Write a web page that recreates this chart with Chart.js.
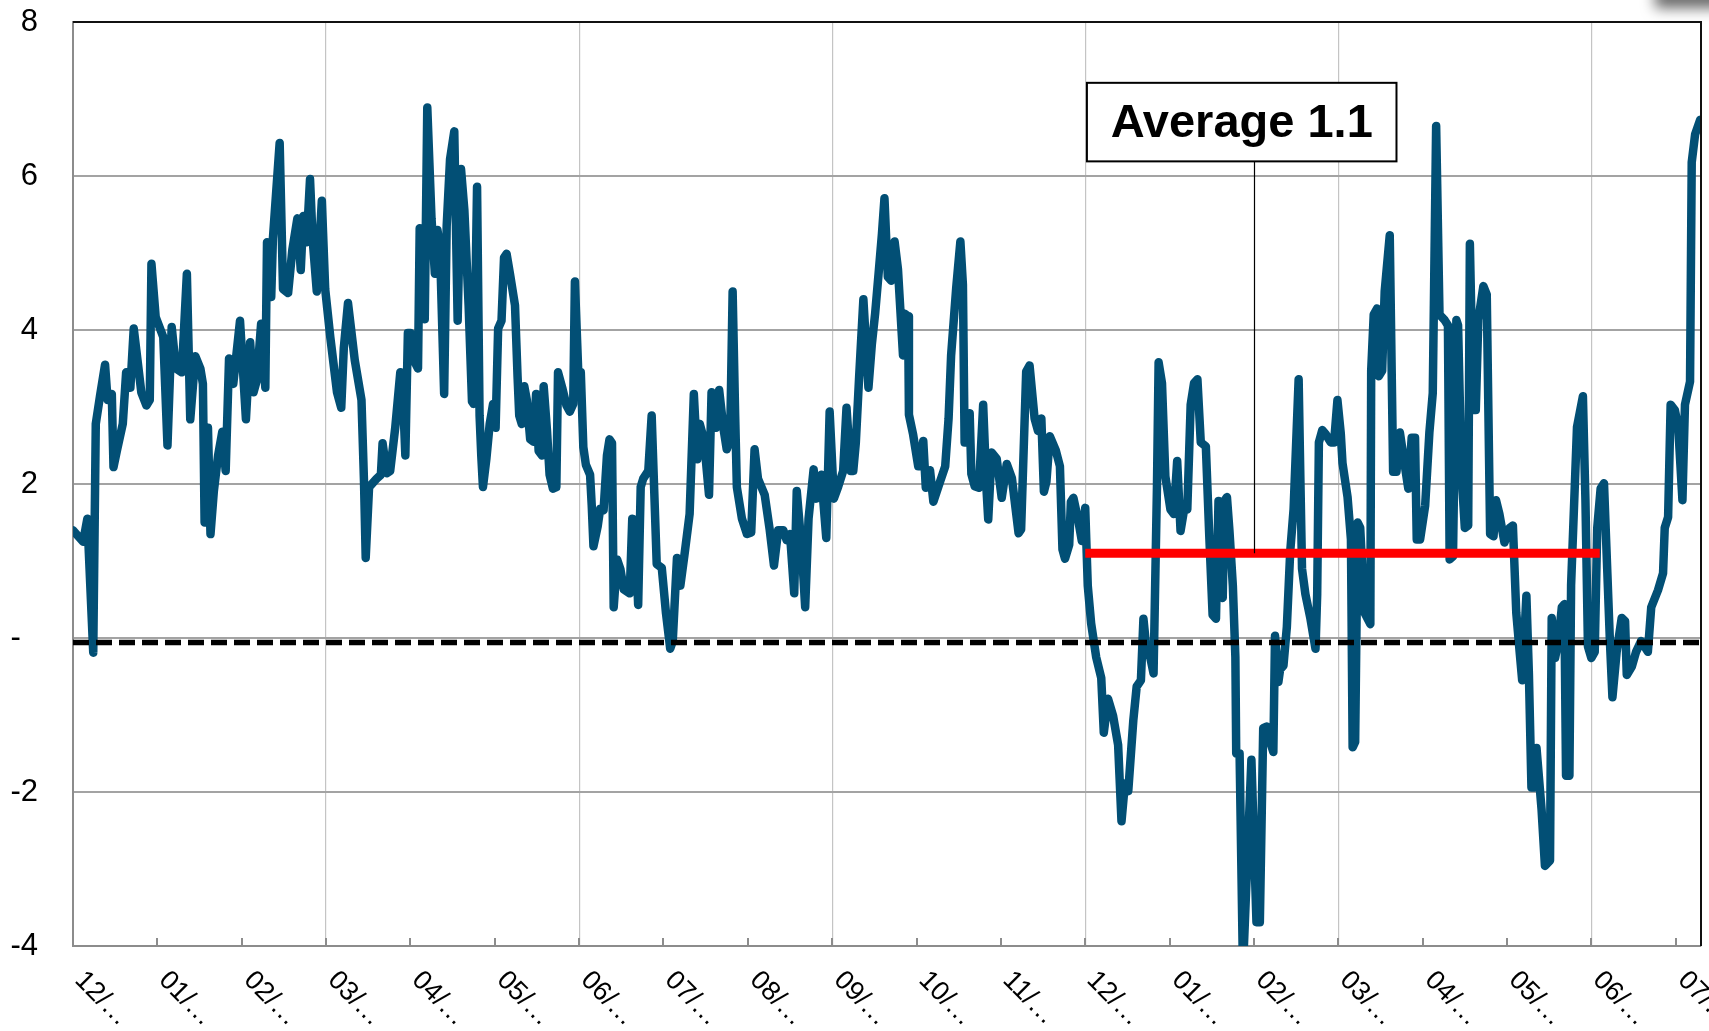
<!DOCTYPE html>
<html>
<head>
<meta charset="utf-8">
<script src="https://cdn.jsdelivr.net/npm/chart.js@4.4.1/dist/chart.umd.min.js"></script>
<style>
  html, body { margin: 0; padding: 0; background: #fff; }
</style>
</head>
<body>
<canvas id="spreadChart" width="1709" height="1031"></canvas>
<script>
// month tick labels, one per month (x = months since the first tick)
const monthLabels = ["12/…", "01/…", "02/…", "03/…", "04/…", "05/…", "06/…", "07/…", "08/…", "09/…",
                     "10/…", "11/…", "12/…", "01/…", "02/…", "03/…", "04/…", "05/…", "06/…", "07/…"];

// series: position in months, value
const xMonths = [
  0.00,0.12,0.17,0.24,0.27,0.32,0.38,0.41,0.46,0.48,0.52,0.59,0.63,0.68,0.72,0.81,0.87,0.91,0.93,0.98,
  1.07,1.12,1.17,1.22,1.29,1.35,1.39,1.45,1.51,1.54,1.56,1.60,1.63,1.67,1.72,1.77,1.81,1.85,1.90,1.98,
  2.05,2.10,2.14,2.18,2.23,2.28,2.30,2.35,2.37,2.45,2.49,2.55,2.60,2.66,2.70,2.73,2.77,2.81,2.84,2.89,2.95,2.99,
  3.05,3.13,3.18,3.21,3.26,3.34,3.42,3.45,3.47,3.51,3.60,3.65,3.67,3.72,3.76,3.82,3.88,3.91,3.94,3.97,
  4.00,4.04,4.09,4.11,4.17,4.20,4.25,4.29,4.32,4.35,4.40,4.43,4.47,4.52,4.56,4.60,4.64,4.69,4.73,4.75,4.79,4.82,4.84,4.86,4.90,4.94,4.98,
  5.01,5.04,5.08,5.11,5.14,5.18,5.24,5.27,5.29,5.32,5.35,5.38,5.42,5.46,5.49,5.52,5.56,5.58,5.62,5.65,5.69,5.73,5.75,5.80,5.85,5.89,5.93,5.95,5.99,
  6.02,6.05,6.08,6.13,6.15,6.17,6.22,6.25,6.29,6.33,6.36,6.39,6.41,6.45,6.49,6.53,6.60,6.63,6.66,6.70,6.73,6.76,6.82,6.86,6.92,6.98,
  7.03,7.08,7.11,7.16,7.20,7.25,7.31,7.36,7.40,7.43,7.48,7.54,7.57,7.62,7.66,7.71,7.75,7.79,7.82,7.85,7.87,7.93,7.99,
  8.04,8.08,8.12,8.20,8.26,8.31,8.36,8.42,8.46,8.50,8.55,8.58,8.64,8.68,8.72,8.78,8.81,8.87,8.93,8.97,
  9.02,9.07,9.13,9.17,9.22,9.25,9.28,9.32,9.37,9.43,9.47,9.51,9.55,9.59,9.62,9.66,9.70,9.74,9.78,9.84,9.86,9.90,9.91,9.96,
  10.02,10.04,10.08,10.11,10.16,10.20,10.26,10.34,10.38,10.41,10.47,10.52,10.55,10.57,10.60,10.63,10.65,10.69,10.74,10.79,10.83,10.85,10.89,10.95,
  11.01,11.07,11.13,11.21,11.24,11.30,11.34,11.40,11.44,11.48,11.51,11.54,11.58,11.65,11.70,11.73,11.76,11.81,11.83,11.86,11.92,11.96,
  12.00,12.03,12.07,12.13,12.19,12.22,12.27,12.33,12.39,12.43,12.47,12.51,12.57,12.61,12.66,12.69,12.73,12.77,12.81,12.85,12.87,12.91,12.95,
  13.01,13.05,13.09,13.13,13.18,13.21,13.25,13.29,13.33,13.37,13.43,13.47,13.51,13.55,13.58,13.61,13.63,13.65,13.68,13.71,13.75,13.78,13.79,13.83,13.87,13.97,
  14.03,14.07,14.11,14.15,14.19,14.23,14.25,14.29,14.31,14.35,14.39,14.43,14.47,14.53,14.55,14.57,14.61,14.67,14.73,14.75,14.77,14.81,14.85,14.91,14.95,14.99,
  15.03,15.05,15.11,15.15,15.17,15.20,15.23,15.26,15.31,15.38,15.39,15.42,15.46,15.48,15.52,15.55,15.61,15.65,15.69,15.73,15.79,15.83,15.87,15.91,15.93,15.97,
  16.03,16.08,16.12,16.16,16.20,16.26,16.30,16.32,16.36,16.40,16.42,16.46,16.50,16.54,16.56,16.60,16.63,16.66,16.72,16.76,16.80,16.84,16.87,16.91,16.97,
  17.03,17.07,17.11,17.15,17.18,17.23,17.26,17.29,17.33,17.35,17.41,17.45,17.51,17.53,17.57,17.61,17.65,17.68,17.70,17.74,17.76,17.79,17.83,17.90,17.93,17.96,
  18.00,18.04,18.07,18.11,18.15,18.19,18.22,18.25,18.30,18.36,18.40,18.42,18.48,18.53,18.59,18.67,18.71,18.79,18.85,18.87,18.91,18.94,18.99,
  19.03,19.08,19.11,19.17,19.19,19.23,19.29
];
const yValues = [
  1.40,1.25,1.55,-0.19,2.78,3.14,3.55,3.09,3.17,2.22,2.43,2.78,3.45,3.25,4.02,3.19,3.02,3.09,4.86,4.17,
  3.91,2.50,4.04,3.50,3.45,4.73,2.84,3.66,3.50,3.30,1.50,2.73,1.35,1.91,2.37,2.68,2.17,3.63,3.30,4.12,
  2.84,3.84,3.19,3.35,4.08,3.25,5.14,4.43,5.19,6.43,4.53,4.48,5.04,5.45,4.78,5.48,5.14,5.96,5.19,4.50,5.68,4.53,
  3.91,3.19,2.99,3.76,4.35,3.61,3.09,2.02,1.04,1.96,2.07,2.12,2.53,2.14,2.17,2.73,3.45,3.19,2.37,3.96,
  3.96,3.61,3.50,5.32,4.14,6.89,5.45,4.73,5.30,5.09,3.17,5.35,6.22,6.58,4.12,6.09,5.55,4.32,3.07,3.04,5.86,2.89,2.37,1.96,2.32,2.78,3.04,
  2.73,4.02,4.12,4.94,4.99,4.73,4.32,3.40,2.89,2.78,3.27,3.09,2.58,2.55,3.17,2.43,2.37,3.27,2.68,2.12,1.94,1.96,3.45,3.25,3.02,2.94,3.04,4.63,3.45,
  3.45,2.48,2.25,2.12,1.71,1.19,1.45,1.68,1.66,2.37,2.58,2.53,0.40,1.02,0.89,0.63,0.58,1.55,1.53,0.43,1.96,2.07,2.17,2.89,0.96,0.91,
  0.32,-0.14,-0.04,1.04,0.68,1.09,1.61,3.17,2.32,2.78,2.58,1.86,3.19,2.73,3.22,2.73,2.45,2.58,4.50,2.89,1.96,1.55,1.35,
  1.37,2.45,2.07,1.86,1.40,0.94,1.40,1.40,1.27,1.35,0.58,1.91,1.14,0.40,1.55,2.19,1.81,2.12,1.30,2.94,
  1.81,1.96,2.17,2.99,2.17,2.17,2.53,3.40,4.40,3.25,3.81,4.22,4.73,5.25,5.71,4.69,4.64,5.15,4.79,3.67,4.21,4.18,2.90,2.64,
  2.23,2.23,2.56,1.95,2.18,1.77,1.97,2.23,2.85,3.67,4.54,5.15,4.59,2.54,2.54,2.92,2.13,1.97,1.95,3.03,1.92,1.54,2.41,2.33,
  1.82,2.26,2.08,1.36,1.41,3.46,3.54,2.85,2.69,2.85,1.90,2.03,2.62,2.44,2.23,1.15,1.03,1.21,1.77,1.82,1.51,1.26,
  1.69,0.68,0.19,-0.25,-0.52,-1.23,-0.79,-1.01,-1.39,-2.38,-1.89,-1.99,-1.07,-0.63,-0.55,0.25,-0.19,-0.25,-0.46,1.94,3.58,3.31,2.10,
  1.67,1.61,2.30,1.39,1.72,1.67,3.03,3.31,3.36,2.54,2.49,1.34,0.30,0.25,1.78,0.57,0.52,1.78,1.83,1.39,0.68,-0.25,-1.50,-1.50,-4.30,-1.58,
  -3.69,-3.69,-1.17,-1.15,-1.34,-1.48,0.03,-0.57,-0.41,-0.36,0.14,1.12,1.67,3.36,2.10,0.90,0.57,0.25,-0.14,0.57,2.54,2.70,2.65,2.54,2.54,3.09,
  2.65,2.27,1.83,1.28,-1.42,-1.35,1.50,1.43,0.33,0.18,3.47,4.20,4.28,3.40,3.47,4.50,5.23,2.16,2.16,2.67,2.23,1.94,2.60,2.60,1.28,1.28,
  1.72,2.67,3.18,6.65,4.20,4.13,4.06,1.02,1.06,4.13,4.06,2.16,1.43,1.46,5.12,2.96,2.96,4.13,4.57,4.46,1.35,1.32,1.79,1.61,1.24,
  1.43,1.46,0.33,-0.18,-0.55,0.55,-0.48,-1.94,-1.94,-1.43,-2.23,-2.96,-2.89,0.26,-0.26,-0.04,0.40,0.44,-1.79,-1.79,0.69,1.57,2.74,3.14,1.79,-0.11,
  -0.26,-0.18,1.43,1.94,2.01,0.84,-0.04,-0.77,-0.18,0.26,0.22,-0.48,-0.37,-0.18,-0.04,-0.18,0.40,0.62,0.84,1.43,1.57,3.03,2.96,
  2.74,1.79,3.03,3.33,6.18,6.54,6.73
];

// average over the last period, and the dashed reference level
const avgValue = 1.1;
const avgFrom = 12;
const avgTo = 18.1;
const avgText = "Average 1.1";
const refLevel = -0.06;

const xMax = 19.3;

const n = Math.min(xMonths.length, yValues.length);
const seriesPoints = [];
for (let i = 0; i < n; i++) seriesPoints.push({ x: xMonths[i], y: yValues[i] });

// box for the label, in data units
const noteBox = { left: 12.02, right: 15.69, top: 7.21, bottom: 6.19, pointerX: 14.0 };

const chartDecor = {
  id: 'chartDecor',
  afterDraw(chart) {
    const { ctx, chartArea: a, scales: { x, y } } = chart;
    ctx.save();

    // smudge in the top right corner
    ctx.save();
    ctx.shadowColor = 'rgba(0,0,0,0.6)';
    ctx.shadowBlur = 14;
    ctx.shadowOffsetY = 30;
    ctx.fillStyle = '#000';
    ctx.fillRect(1655, -42, 140, 20);
    ctx.restore();

    // top and right frame
    ctx.strokeStyle = '#111';
    ctx.lineWidth = 2;
    ctx.beginPath();
    ctx.moveTo(a.left, a.top);
    ctx.lineTo(a.right, a.top);
    ctx.lineTo(a.right, a.bottom);
    ctx.stroke();

    // month ticks inside the plot and rotated labels
    ctx.font = '27px "Liberation Sans", Arial, sans-serif';
    ctx.fillStyle = '#000';
    ctx.textAlign = 'left';
    ctx.textBaseline = 'middle';
    monthLabels.forEach((lab, i) => {
      const px = Math.round(x.getPixelForValue(i));
      if (i > 0) {
        ctx.strokeStyle = '#8c8c8c';
        ctx.lineWidth = 2;
        ctx.beginPath();
        ctx.moveTo(px, a.bottom);
        ctx.lineTo(px, a.bottom - 8);
        ctx.stroke();
      }
      ctx.save();
      ctx.translate(px + 6, a.bottom + 30);
      ctx.rotate(Math.PI / 4);
      ctx.fillText(lab, 0, 0);
      ctx.restore();
    });

    // label box with its pointer down to the average line
    const bl = x.getPixelForValue(noteBox.left);
    const br = x.getPixelForValue(noteBox.right);
    const bt = y.getPixelForValue(noteBox.top);
    const bb = y.getPixelForValue(noteBox.bottom);
    const px = Math.round(x.getPixelForValue(noteBox.pointerX)) + 0.5;
    ctx.strokeStyle = '#000';
    ctx.lineWidth = 1.2;
    ctx.beginPath();
    ctx.moveTo(px, bb);
    ctx.lineTo(px, y.getPixelForValue(avgValue));
    ctx.stroke();
    ctx.fillStyle = '#fff';
    ctx.fillRect(bl, bt, br - bl, bb - bt);
    ctx.lineWidth = 2;
    ctx.strokeRect(bl, bt, br - bl, bb - bt);
    ctx.fillStyle = '#000';
    ctx.font = 'bold 47px "Liberation Sans", Arial, sans-serif';
    ctx.textAlign = 'center';
    ctx.textBaseline = 'middle';
    ctx.fillText(avgText, (bl + br) / 2, (bt + bb) / 2 + 2);

    ctx.restore();
  }
};

Chart.defaults.font.family = '"Liberation Sans", Arial, sans-serif';

new Chart(document.getElementById('spreadChart'), {
  type: 'line',
  data: {
    datasets: [
      {
        label: 'Average',
        data: [{ x: avgFrom, y: avgValue }, { x: avgTo, y: avgValue }],
        borderColor: '#ff0000',
        borderWidth: 9,
        borderCapStyle: 'butt',
        pointRadius: 0
      },
      {
        label: 'Reference',
        data: [{ x: 0, y: refLevel }, { x: xMax, y: refLevel }],
        borderColor: '#000',
        borderWidth: 5.5,
        borderDash: [16, 7],
        borderCapStyle: 'butt',
        pointRadius: 0
      },
      {
        label: 'Series',
        data: seriesPoints,
        borderColor: '#024f75',
        borderWidth: 8.5,
        borderJoinStyle: 'round',
        borderCapStyle: 'round',
        pointRadius: 0,
        tension: 0,
        clip: 0
      }
    ]
  },
  options: {
    responsive: false,
    animation: false,
    devicePixelRatio: 1,
    layout: { padding: { top: 22, right: 8, left: 0, bottom: 0 } },
    plugins: {
      legend: { display: false },
      tooltip: { enabled: false }
    },
    scales: {
      x: {
        type: 'linear',
        min: 0,
        max: xMax,
        afterBuildTicks: (s) => { s.ticks = monthLabels.map((_, i) => ({ value: i })); },
        afterFit: (s) => { s.height = 85; s.paddingLeft = 0; s.paddingRight = 0; },
        ticks: { display: false },
        grid: {
          color: (c) => (c.tick && c.tick.value > 0 && c.tick.value % 3 === 0) ? '#c4c4c4' : 'rgba(0,0,0,0)',
          lineWidth: 1.2,
          drawTicks: false
        },
        border: { color: '#8c8c8c', width: 2 }
      },
      y: {
        min: -4,
        max: 8,
        afterFit: (s) => { s.width = 73; s.paddingTop = 0; s.paddingBottom = 0; },
        ticks: {
          stepSize: 2,
          padding: 35,
          color: '#000',
          font: { size: 31 },
          callback: (v) => v === 0 ? '-  ' : String(v)
        },
        grid: { color: '#a3a3a3', lineWidth: 2, drawTicks: false },
        border: { color: '#8c8c8c', width: 2 }
      }
    }
  },
  plugins: [chartDecor]
});
</script>
</body>
</html>
